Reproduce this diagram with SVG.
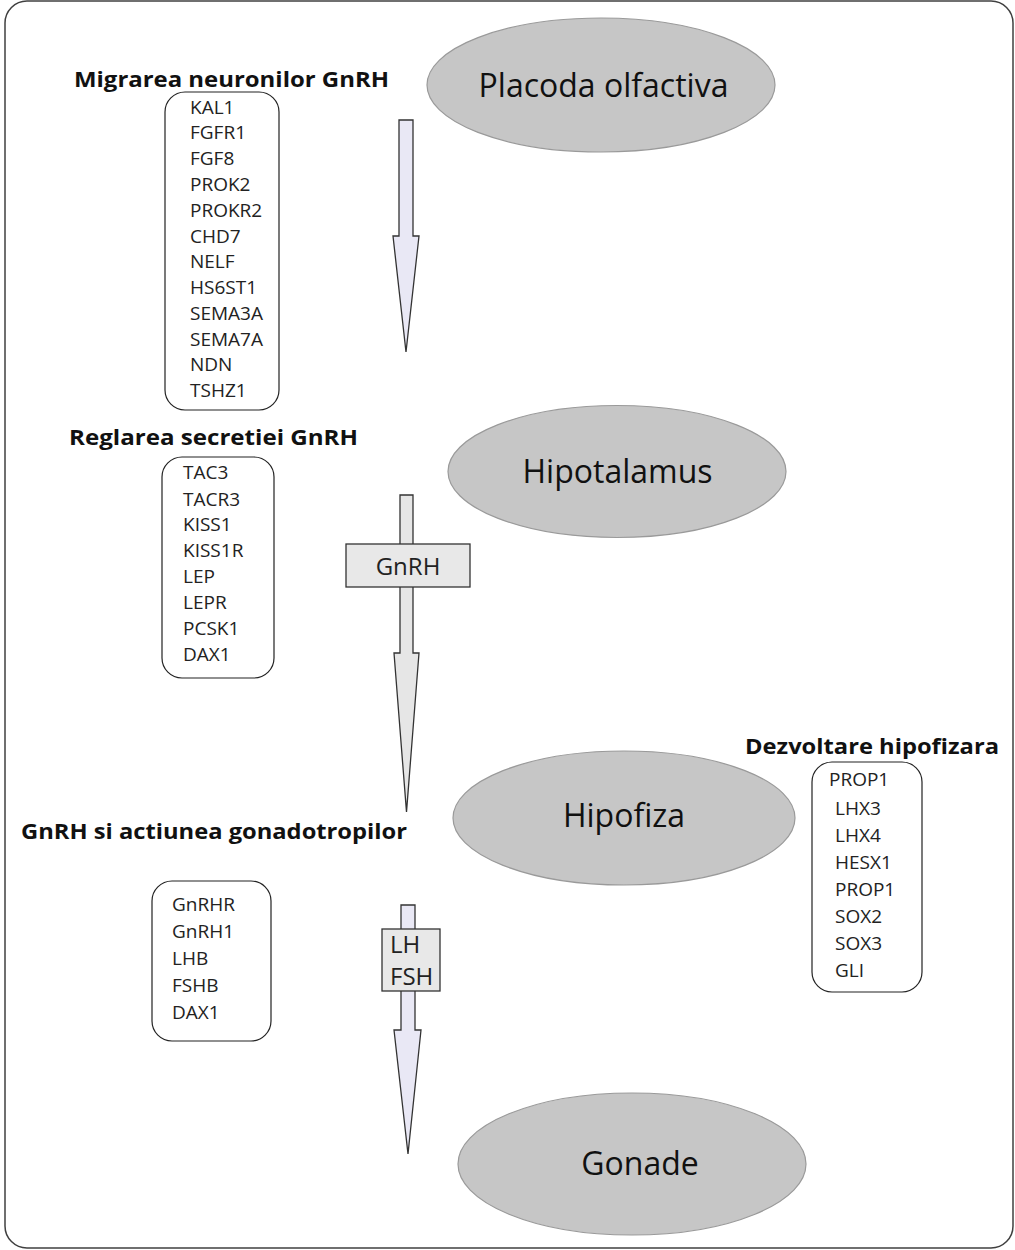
<svg xmlns="http://www.w3.org/2000/svg" width="1015" height="1250" viewBox="0 0 1015 1250">
<style>
.frame{fill:#fff;stroke:#404040;stroke-width:1.5}
.ell{fill:#c6c6c6;stroke:#9a9a9a;stroke-width:1.2}
.etxt{font-family:"Open Sans","Noto Sans",sans-serif;font-size:32px;fill:#111;text-anchor:middle;dominant-baseline:central}
.head{font-family:"Open Sans","Noto Sans",sans-serif;font-size:22px;font-weight:bold;fill:#111;dominant-baseline:central}
.list{fill:#fff;stroke:#222;stroke-width:1.2}
.item{font-family:"Open Sans","Noto Sans",sans-serif;font-size:19px;fill:#222;dominant-baseline:central}
.arrL{fill:#e9e8f5;stroke:#333;stroke-width:1.3}
.arrG{fill:#e6e6e6;stroke:#333;stroke-width:1.3}
.lbl{fill:#e8e8e8;stroke:#333;stroke-width:1.3}
.ltxt{font-family:"Open Sans","Noto Sans",sans-serif;font-size:24px;fill:#222;dominant-baseline:central}
</style>
<rect class="frame" x="5" y="1" width="1008" height="1247" rx="22"/>
<g id="connectors">
<polygon class="arrL" points="399,120 413,120 413,236 419,236 406,352 393,236 399,236"/>
<polygon class="arrG" points="400,495 413,495 413,653 419,653 406.5,812 394,653 400,653"/>
<polygon class="arrL" points="401,905 415,905 415,1030 421,1030 408,1154 394,1030 401,1030"/>
</g>
<g id="placoda"><ellipse class="ell" cx="601" cy="85" rx="174" ry="67"/><text class="etxt" x="603.5" y="84">Placoda olfactiva</text></g>
<g id="hipotalamus"><ellipse class="ell" cx="617" cy="471.5" rx="169" ry="66"/><text class="etxt" x="617.5" y="470">Hipotalamus</text></g>
<g id="hipofiza"><ellipse class="ell" cx="624" cy="818" rx="171" ry="67"/><text class="etxt" x="624" y="814">Hipofiza</text></g>
<g id="gonade"><ellipse class="ell" cx="632" cy="1164" rx="174" ry="71"/><text class="etxt" x="640" y="1162">Gonade</text></g>
<g id="label-gnrh"><rect class="lbl" x="346" y="544" width="124" height="43"/><text class="ltxt" x="408" y="565" text-anchor="middle">GnRH</text></g>
<g id="label-lhfsh"><rect class="lbl" x="382" y="929" width="58" height="62"/><text class="ltxt" x="390" y="943">LH</text><text class="ltxt" x="390" y="975">FSH</text></g>
<g id="migrarea">
<text class="head" x="74" y="78" textLength="315" lengthAdjust="spacingAndGlyphs">Migrarea neuronilor GnRH</text>
<rect class="list" x="165" y="92" width="114" height="318" rx="20"/>
<text class="item" x="190" y="107">KAL1</text>
<text class="item" x="190" y="132">FGFR1</text>
<text class="item" x="190" y="158">FGF8</text>
<text class="item" x="190" y="184">PROK2</text>
<text class="item" x="190" y="210">PROKR2</text>
<text class="item" x="190" y="236">CHD7</text>
<text class="item" x="190" y="261">NELF</text>
<text class="item" x="190" y="287">HS6ST1</text>
<text class="item" x="190" y="313">SEMA3A</text>
<text class="item" x="190" y="339">SEMA7A</text>
<text class="item" x="190" y="364">NDN</text>
<text class="item" x="190" y="390">TSHZ1</text>
</g>
<g id="reglarea">
<text class="head" x="69" y="436" textLength="289" lengthAdjust="spacingAndGlyphs">Reglarea secretiei GnRH</text>
<rect class="list" x="162" y="457" width="112" height="221" rx="20"/>
<text class="item" x="183" y="472">TAC3</text>
<text class="item" x="183" y="499">TACR3</text>
<text class="item" x="183" y="524">KISS1</text>
<text class="item" x="183" y="550">KISS1R</text>
<text class="item" x="183" y="576">LEP</text>
<text class="item" x="183" y="602">LEPR</text>
<text class="item" x="183" y="628">PCSK1</text>
<text class="item" x="183" y="654">DAX1</text>
</g>
<g id="gonadotropi">
<text class="head" x="21" y="830" textLength="386" lengthAdjust="spacingAndGlyphs">GnRH si actiunea gonadotropilor</text>
<rect class="list" x="152" y="881" width="119" height="160" rx="20"/>
<text class="item" x="172" y="904">GnRHR</text>
<text class="item" x="172" y="931">GnRH1</text>
<text class="item" x="172" y="958">LHB</text>
<text class="item" x="172" y="985">FSHB</text>
<text class="item" x="172" y="1012">DAX1</text>
</g>
<g id="dezvoltare">
<text class="head" x="745" y="745" textLength="254" lengthAdjust="spacingAndGlyphs">Dezvoltare hipofizara</text>
<rect class="list" x="812" y="762" width="110" height="230" rx="20"/>
<text class="item" x="829" y="779">PROP1</text>
<text class="item" x="835" y="808">LHX3</text>
<text class="item" x="835" y="835">LHX4</text>
<text class="item" x="835" y="862">HESX1</text>
<text class="item" x="835" y="889">PROP1</text>
<text class="item" x="835" y="916">SOX2</text>
<text class="item" x="835" y="943">SOX3</text>
<text class="item" x="835" y="970">GLI</text>
</g>
</svg>
